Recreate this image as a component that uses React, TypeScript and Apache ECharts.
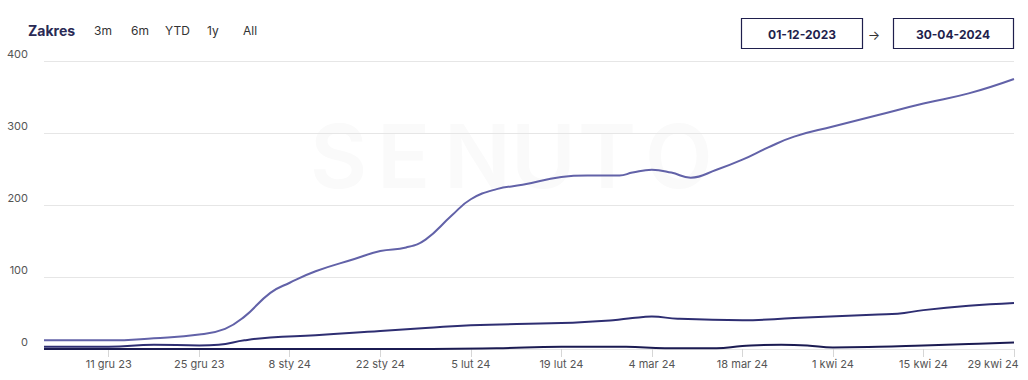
import React, { useEffect, useRef } from "react";
import * as echarts from "echarts";

// ---- data ----
const topDates = [
  "2023-12-01", "2023-12-11", "2023-12-18", "2023-12-25", "2023-12-29", "2024-01-01",
  "2024-01-05", "2024-01-08", "2024-01-12", "2024-01-18", "2024-01-22", "2024-01-26",
  "2024-01-29", "2024-02-02", "2024-02-05", "2024-02-09", "2024-02-13", "2024-02-19",
  "2024-02-23", "2024-02-28", "2024-03-01", "2024-03-04", "2024-03-07", "2024-03-10",
  "2024-03-14", "2024-03-18", "2024-03-22", "2024-03-26", "2024-04-01", "2024-04-08",
  "2024-04-15", "2024-04-22", "2024-04-29",
];
const topValues = [
  12, 12, 15, 20, 28, 45,
  78, 92, 108, 125, 136, 141,
  152, 185, 208, 222, 228, 239,
  241, 241, 245, 249, 245, 238,
  249, 263, 280, 295, 309, 325,
  341, 355, 375,
];

const midDates = [
  "2023-12-01", "2023-12-11", "2023-12-18", "2023-12-25", "2023-12-28", "2024-01-01",
  "2024-01-05", "2024-01-12", "2024-01-22", "2024-01-29", "2024-02-05", "2024-02-19",
  "2024-02-27", "2024-03-01", "2024-03-04", "2024-03-08", "2024-03-18", "2024-03-26",
  "2024-04-08", "2024-04-11", "2024-04-15", "2024-04-22", "2024-04-29",
];
const midValues = [
  3, 3, 6, 5, 6, 12,
  16, 19, 25, 29, 33, 36,
  40, 43, 45, 42, 40, 43,
  48, 49, 54, 60, 64,
];

const lowDates = [
  "2023-12-01", "2023-12-25", "2024-01-30", "2024-02-09", "2024-02-19", "2024-02-29",
  "2024-03-06", "2024-03-14", "2024-03-18", "2024-03-24", "2024-03-28", "2024-04-01",
  "2024-04-08", "2024-04-15", "2024-04-22", "2024-04-29",
];
const lowValues = [
  0, 0, 0, 1, 3, 3,
  1, 1, 4, 6, 5, 2,
  3, 5, 7, 9,
];

const tickDates = [
  "2023-12-11", "2023-12-25", "2024-01-08", "2024-01-22", "2024-02-05", "2024-02-19",
  "2024-03-04", "2024-03-18", "2024-04-01", "2024-04-15", "2024-04-29",
];
const axisStart = "2023-12-01";
const axisEnd = "2024-04-29";
const yTicks = [0, 100, 200, 300, 400];

const rangeButtons = ["3m", "6m", "YTD", "1y", "All"];
const rangeFrom = "01-12-2023";
const rangeTo = "30-04-2024";
const plMonths = ["sty", "lut", "mar", "kwi", "maj", "cze", "lip", "sie", "wrz", "paź", "lis", "gru"];

const toTs = (s: string) => {
  const [y, m, d] = s.split("-").map(Number);
  return Date.UTC(y, m - 1, d);
};
const pairs = (dates: string[], vals: number[]) => dates.map((d, i) => [toTs(d), vals[i]]);

const FONT = "Inter, 'Noto Sans', sans-serif";

export default function App() {
  const ref = useRef<HTMLDivElement>(null);
  useEffect(() => {
    document.body.style.margin = "0";
    const chart = echarts.init(ref.current!, undefined, { renderer: "svg" });
    const tickTs = tickDates.map(toTs);
    const lastTick = tickTs[tickTs.length - 1];
    const btnX = [94, 131, 165, 207, 243];
    const watermark = "SENUTO".split("");
    chart.setOption({
      animation: false,
      textStyle: { fontFamily: FONT },
      grid: { left: 44, right: 14, top: 61, bottom: 31 },
      xAxis: {
        type: "value",
        min: toTs(axisStart),
        max: toTs(axisEnd),
        axisLine: { show: false },
        splitLine: { show: false },
        axisTick: {
          show: true,
          customValues: tickTs,
          length: 8,
          lineStyle: { color: "#d6d6d6" },
        },
        axisLabel: {
          customValues: tickTs,
          color: "#555",
          fontSize: 11,
          margin: 9,
          fontFamily: FONT,
          showMinLabel: true,
          showMaxLabel: true,
          formatter: (v: number) => {
            const dt = new Date(v);
            const txt = `${dt.getUTCDate()} ${plMonths[dt.getUTCMonth()]} ${String(dt.getUTCFullYear()).slice(2)}`;
            return v === lastTick ? `{r|${txt}}` : txt;
          },
          rich: { r: { padding: [0, 42, 0, 0], fontSize: 11, color: "#555", fontFamily: FONT } },
        },
      },
      yAxis: {
        type: "value",
        min: yTicks[0],
        max: yTicks[yTicks.length - 1],
        interval: 100,
        axisLine: { show: false },
        axisTick: { show: false },
        splitLine: { lineStyle: { color: "#e6e6e6", width: 1 } },
        axisLabel: {
          color: "#555",
          fontSize: 11,
          margin: 16,
          verticalAlign: "bottom",
          lineHeight: 14,
          fontFamily: FONT,
        },
      },
      graphic: [
        ...watermark.map((ch, i) => ({
          type: "text",
          left: 310 + i * 67,
          top: 112,
          silent: true,
          z: -10,
          style: { text: ch, fontSize: 88, fontWeight: 600, fill: "#fafafa", fontFamily: FONT },
        })),
        {
          type: "text",
          x: 28,
          y: 30,
          style: { text: "Zakres", fontSize: 14, fontWeight: 700, fill: "#2a2a55", fontFamily: FONT, verticalAlign: "middle" },
        },
        ...rangeButtons.map((b, i) => ({
          type: "text",
          x: btnX[i],
          y: 30,
          style: { text: b, fontSize: 12, fill: "#333", fontFamily: FONT, verticalAlign: "middle" },
        })),
        {
          type: "rect",
          shape: { x: 741.5, y: 18.5, width: 121, height: 30 },
          style: { fill: "#fff", stroke: "#1f1f4d", lineWidth: 1.2 },
        },
        {
          type: "text",
          x: 802,
          y: 34,
          style: { text: rangeFrom, fontSize: 12, fontWeight: 700, fill: "#1f1f4d", fontFamily: FONT, align: "center", verticalAlign: "middle" },
        },
        {
          type: "text",
          x: 874,
          y: 35,
          style: { text: "→", fontSize: 13, fill: "#333", fontFamily: FONT, align: "center", verticalAlign: "middle" },
        },
        {
          type: "rect",
          shape: { x: 893.5, y: 18.5, width: 120, height: 30 },
          style: { fill: "#fff", stroke: "#1f1f4d", lineWidth: 1.2 },
        },
        {
          type: "text",
          x: 953,
          y: 34,
          style: { text: rangeTo, fontSize: 12, fontWeight: 700, fill: "#1f1f4d", fontFamily: FONT, align: "center", verticalAlign: "middle" },
        },
      ],
      series: [
        {
          type: "line",
          data: pairs(topDates, topValues),
          smooth: 0.45,
          showSymbol: false,
          lineStyle: { color: "#6262a8", width: 2 },
          itemStyle: { color: "#6262a8" },
        },
        {
          type: "line",
          data: pairs(midDates, midValues),
          smooth: 0.45,
          showSymbol: false,
          lineStyle: { color: "#2e2e72", width: 2 },
          itemStyle: { color: "#2e2e72" },
        },
        {
          type: "line",
          data: pairs(lowDates, lowValues),
          smooth: 0.45,
          showSymbol: false,
          lineStyle: { color: "#1b1b52", width: 2 },
          itemStyle: { color: "#1b1b52" },
        },
      ],
    });
    return () => chart.dispose();
  }, []);
  return <div ref={ref} style={{ width: 1028, height: 380 }} />;
}
